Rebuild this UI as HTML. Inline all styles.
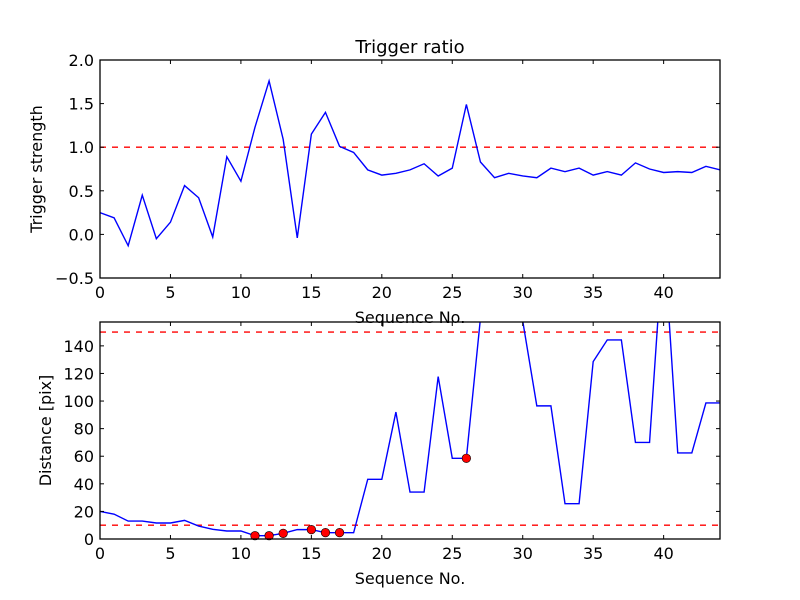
<!DOCTYPE html>
<html><head><meta charset="utf-8"><style>
html,body{margin:0;padding:0;background:#fff;}
svg{display:block;font-family:"DejaVu Sans","Liberation Sans",sans-serif;}
</style></head><body>
<svg id="fig" width="800" height="600" viewBox="0 0 800 600" xmlns="http://www.w3.org/2000/svg">
<rect width="800" height="600" fill="#fff"/>
</svg>
<script>
const seq = Array.from({length:45},(_,i)=>i);
const trigger = [0.25,0.19,-0.13,0.45,-0.05,0.14,0.56,0.42,-0.03,0.89,0.61,1.23,1.76,1.09,-0.04,1.15,1.40,1.01,0.94,0.74,0.68,0.70,0.74,0.81,0.67,0.76,1.49,0.83,0.65,0.70,0.67,0.65,0.76,0.72,0.76,0.68,0.72,0.68,0.82,0.75,0.71,0.72,0.71,0.78,0.74];
const distance = [20,18,13,13,11.6,11.6,13.5,9.4,7,5.8,5.8,2.4,2.4,4.1,6.8,6.8,4.6,4.6,4.6,43.3,43.3,92,34,34,117.7,58.5,58.5,160,200,200,158,96.5,96.5,25.6,25.6,128.6,144.3,144.3,70,70,220,62.4,62.4,98.6,98.6];
const markerIdx = [11,12,13,15,16,17,26];
const topTicks = [-0.5,0.0,0.5,1.0,1.5,2.0];
const topTickLabels = ["\u22120.5","0.0","0.5","1.0","1.5","2.0"];
const botTicks = [0,20,40,60,80,100,120,140];
const xTicks = [0,5,10,15,20,25,30,35,40];
const topThreshold = [1.0];
const botThresholds = [10,150];

const NS="http://www.w3.org/2000/svg";
const svg=document.getElementById('fig');
function mk(tag,attrs,parent){const e=document.createElementNS(NS,tag);for(const k in attrs)e.setAttribute(k,attrs[k]);(parent||svg).appendChild(e);return e;}

const X0=100,X1=720;
const xs=v=>X0+(v-0)/(44-0)*(X1-X0);

function panel(name,Y0,Y1,ymin,ymax,ticks,labels,data,thr,ylabel,markers){
  const ys=v=>Y1-(v-ymin)/(ymax-ymin)*(Y1-Y0);
  const g=mk('g',{});
  
  
  const defs=mk('clipPath',{id:'clip-'+name},g);
  mk('rect',{x:X0,y:Y0,width:X1-X0,height:Y1-Y0},defs);
  thr.forEach(t=>{const l=mk('line',{x1:X0,x2:X1,y1:ys(t),y2:ys(t),stroke:'#ff0000','stroke-width':1.3,'stroke-dasharray':'6,6'},g);
    
    });
  const pts=data.map((v,i)=>xs(seq[i]).toFixed(2)+','+ys(v).toFixed(2)).join(' ');
  const pl=mk('polyline',{points:pts,fill:'none',stroke:'#0000ff','stroke-width':1.4,'clip-path':'url(#clip-'+name+')'},g);
  
  
  if(markers){markers.forEach(i=>{const c=mk('circle',{cx:xs(seq[i]),cy:ys(data[i]),r:4.3,fill:'#ff0000',stroke:'#000','stroke-width':0.6},g);
    
    });}
  ticks.forEach((t,i)=>{const y=ys(t);
    mk('line',{x1:X0,x2:X0+4,y1:y,y2:y,stroke:'#000'},g);
    mk('line',{x1:X1,x2:X1-4,y1:y,y2:y,stroke:'#000'},g);
    const tx=mk('text',{x:X0-6,y:y+6,'text-anchor':'end','font-size':16,fill:'#000'},g);
    tx.textContent=labels?labels[i]:String(t);
    
    });
  xTicks.forEach(t=>{const x=xs(t);
    mk('line',{x1:x,x2:x,y1:Y1,y2:Y1-4,stroke:'#000'},g);
    mk('line',{x1:x,x2:x,y1:Y0,y2:Y0+4,stroke:'#000'},g);
    const tx=mk('text',{x:x,y:Y1+20,'text-anchor':'middle','font-size':16,fill:'#000'},g);
    tx.textContent=String(t);
    
    });
  const fr=mk('rect',{x:X0,y:Y0,width:X1-X0,height:Y1-Y0,fill:'none',stroke:'#000','stroke-width':1.3},g);
  
  
  const xl=mk('text',{x:(X0+X1)/2,y:Y1+45,'text-anchor':'middle','font-size':16,fill:'#000'},g);
  xl.textContent='Sequence No.';
  
  
  const cy=(Y0+Y1)/2;
  const yl=mk('text',{x:0,y:0,'text-anchor':'middle','font-size':16,fill:'#000',transform:'translate('+(name==='top'?42:51)+','+cy+') rotate(-90)'},g);
  yl.textContent=ylabel;
  
  
}
panel('top',60,278,-0.5,2.0,topTicks,topTickLabels,trigger,topThreshold,'Trigger strength',null);
panel('bottom',322,539,0,157.3,botTicks,null,distance,botThresholds,'Distance [pix]',markerIdx);
const title=mk('text',{x:410,y:53,'text-anchor':'middle','font-size':18,fill:'#000'});
title.textContent='Trigger ratio';


</script>
</body></html>
